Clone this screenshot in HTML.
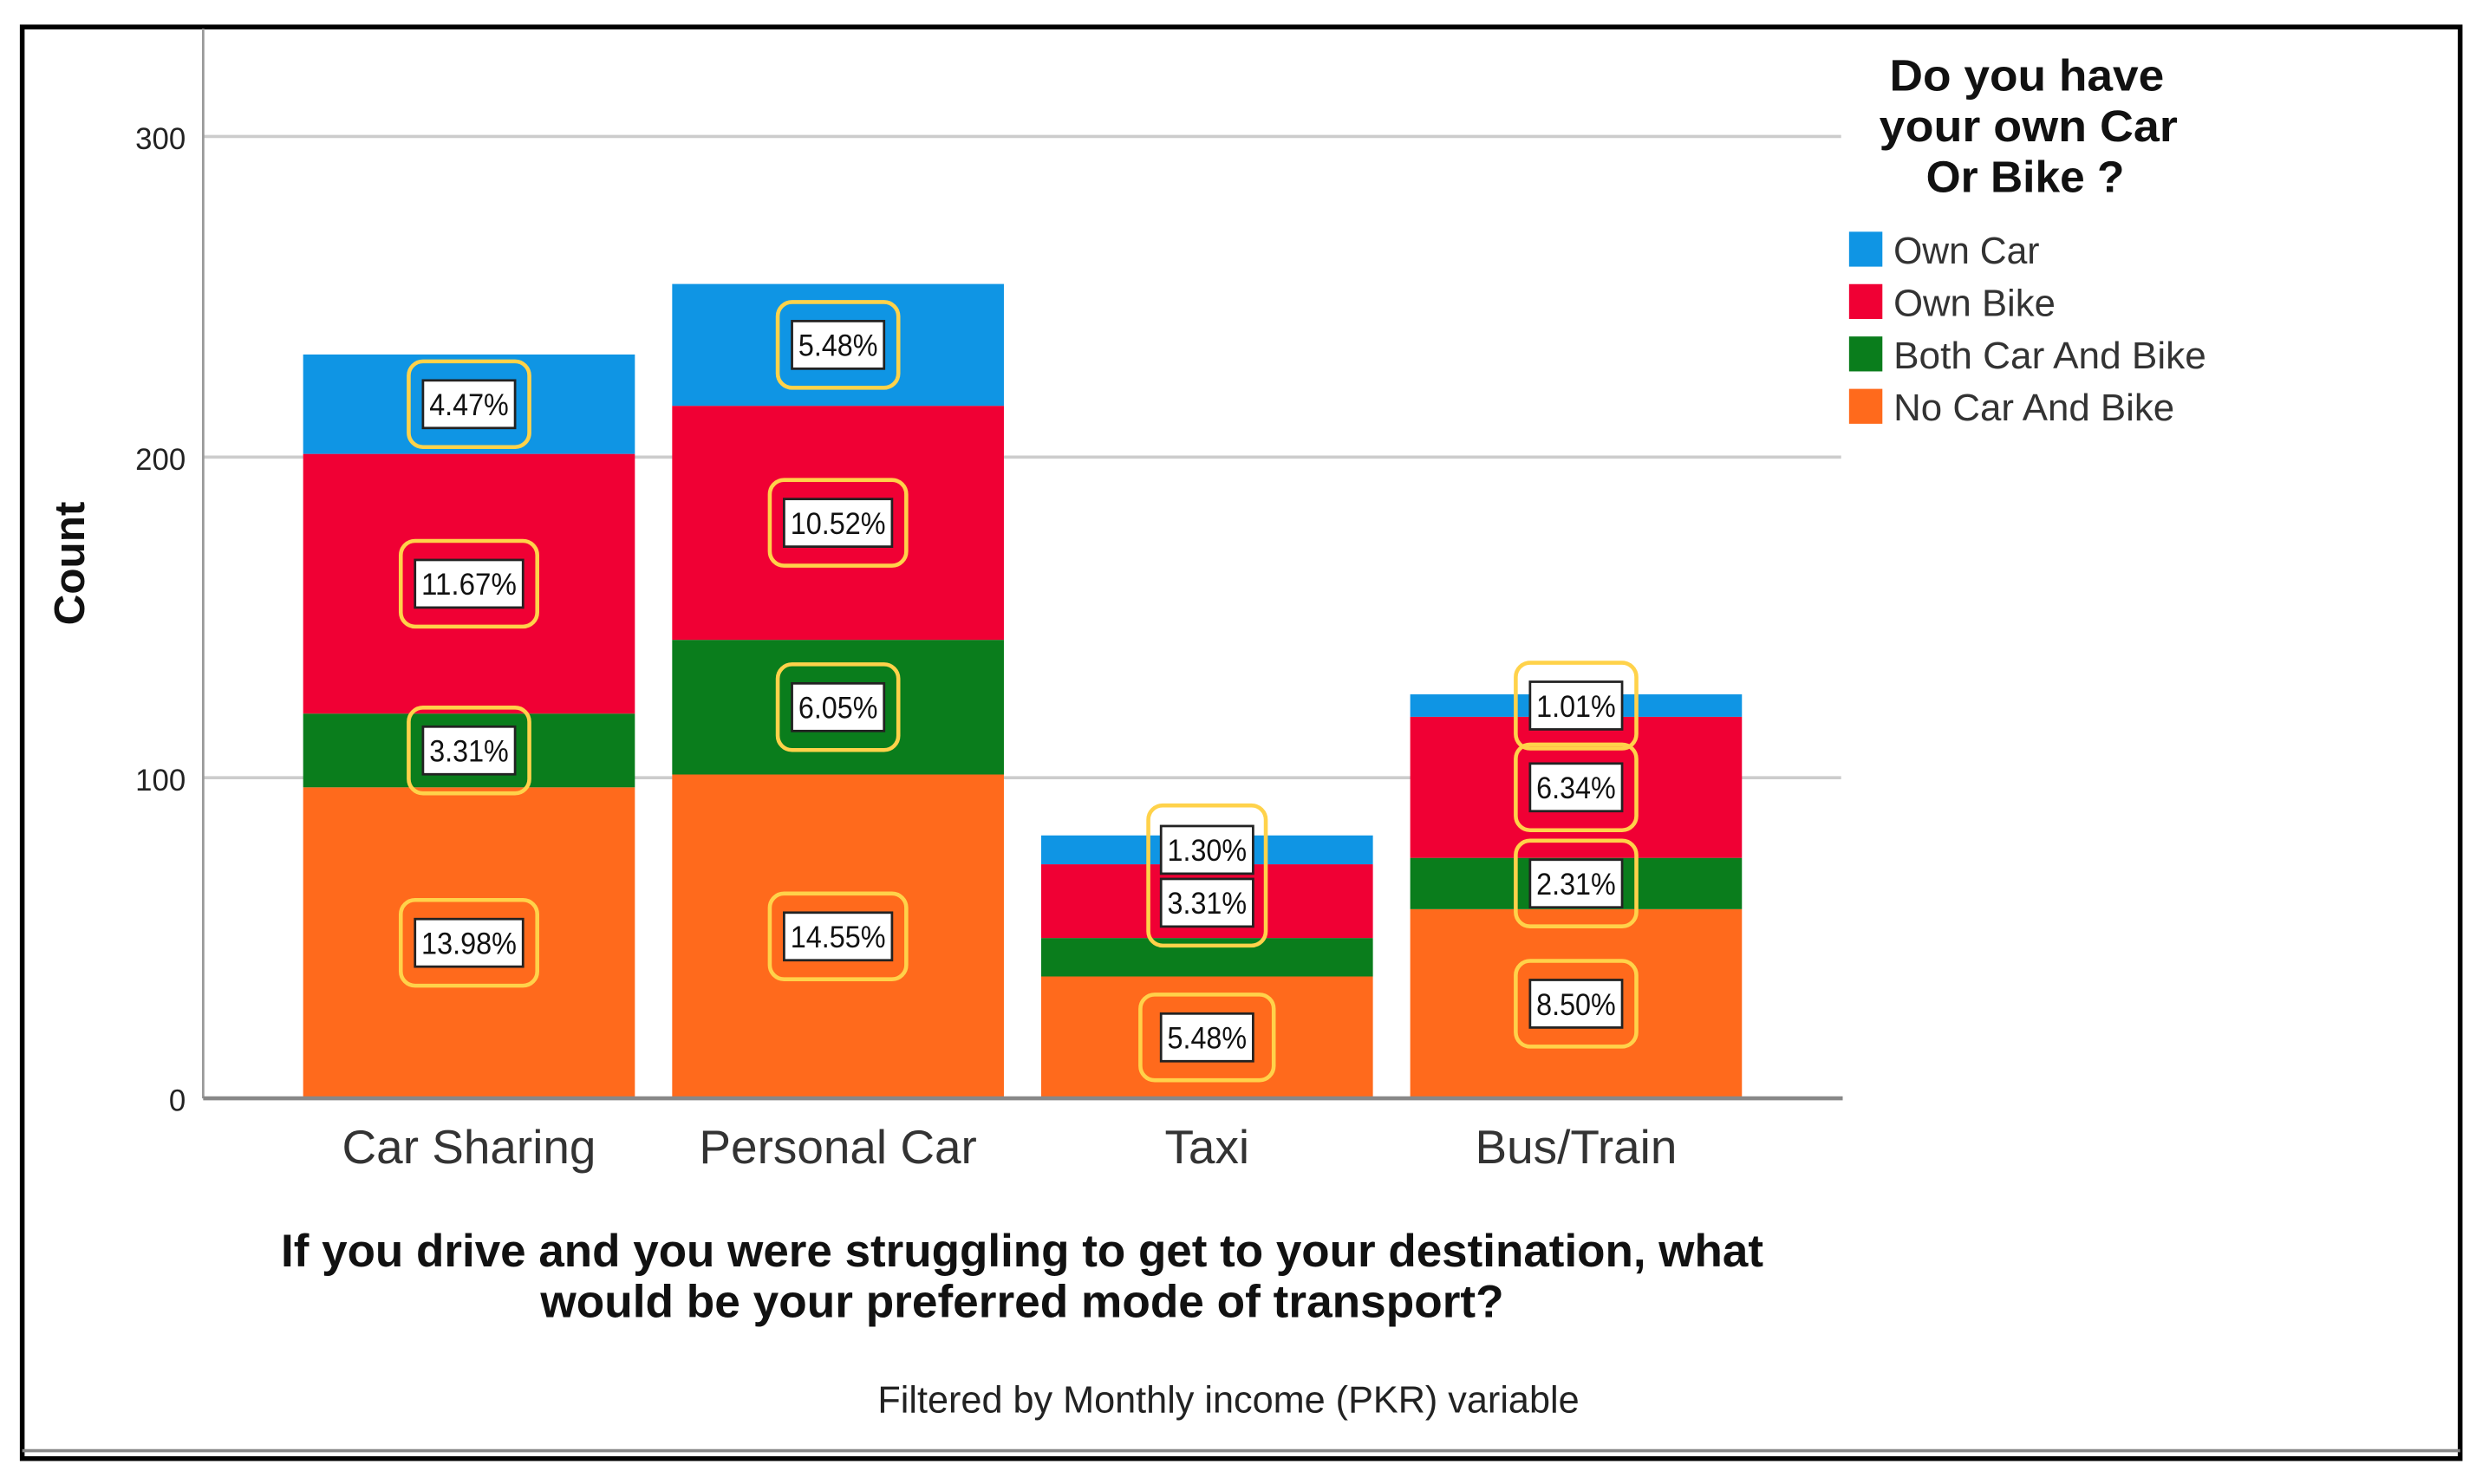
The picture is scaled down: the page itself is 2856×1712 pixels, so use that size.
<!DOCTYPE html>
<html><head><meta charset="utf-8"><style>
html,body{margin:0;padding:0;background:#fff;}
svg{display:block;font-family:"Liberation Sans",sans-serif;}
</style></head><body>
<svg id="chart" width="2856" height="1712" viewBox="0 0 1560 935" preserveAspectRatio="none" xmlns="http://www.w3.org/2000/svg">
<rect x="14" y="17" width="1536" height="902" fill="#fff" stroke="#000" stroke-width="3"/>
<line x1="14" y1="914" x2="1550" y2="914" stroke="#888" stroke-width="2"/>
<g id="grid"></g>
<g id="bars"></g>
<g id="labels"></g>
<line x1="128" y1="18" x2="128" y2="692" stroke="#999" stroke-width="1.5"/>
<line x1="128" y1="692" x2="1161" y2="692" stroke="#888" stroke-width="2.5"/>
<text transform="translate(53,355) rotate(-90)" text-anchor="middle" font-size="27" font-weight="bold" fill="#111">Count</text>
<text x="644" y="798" text-anchor="middle" font-size="29" font-weight="bold" fill="#111" textLength="934" lengthAdjust="spacingAndGlyphs">If you drive and you were struggling to get to your destination, what</text>
<text x="644" y="830" text-anchor="middle" font-size="29" font-weight="bold" fill="#111" textLength="607" lengthAdjust="spacingAndGlyphs">would be your preferred mode of transport?</text>
<text x="774" y="890" text-anchor="middle" font-size="24" fill="#222" textLength="442" lengthAdjust="spacingAndGlyphs">Filtered by Monthly income (PKR) variable</text>
<g>
<text x="1277" y="57" text-anchor="middle" font-size="28" font-weight="bold" fill="#111" textLength="173" lengthAdjust="spacingAndGlyphs">Do you have</text>
<text x="1278" y="89" text-anchor="middle" font-size="28" font-weight="bold" fill="#111" textLength="188" lengthAdjust="spacingAndGlyphs">your own Car</text>
<text x="1276" y="121" text-anchor="middle" font-size="28" font-weight="bold" fill="#111" textLength="125" lengthAdjust="spacingAndGlyphs">Or Bike ?</text>
<g id="legend-entries"></g>
</g>
</svg>
<script>
const categories = ["Car Sharing","Personal Car","Taxi","Bus/Train"];
const seriesNames = ["No Car And Bike","Both Car And Bike","Own Bike","Own Car"];
const noCarAndBike = [97,101,38,59];
const bothCarAndBike = [23,42,12,16];
const ownBike = [81,73,23,44];
const ownCar = [31,38,9,7];
const noCarPct = ["13.98%","14.55%","5.48%","8.50%"];
const bothPct = ["3.31%","6.05%","","2.31%"];
const ownBikePct = ["11.67%","10.52%","3.31%","6.34%"];
const ownCarPct = ["4.47%","5.48%","1.30%","1.01%"];
const yTicks = [0,100,200,300];

const NS="http://www.w3.org/2000/svg";
const colors=["#ff6a1c","#0a7d1c","#f00034","#0f95e4"];
const series=[noCarAndBike,bothCarAndBike,ownBike,ownCar];
const pcts=[noCarPct,bothPct,ownBikePct,ownCarPct];
const keys=["no-car-and-bike","both-car-and-bike","own-bike","own-car"];
function y(v){return 692-v*2.02;}
function xc(i){return 295.5+i*232.5;}
const bw=209;
function mk(tag,attrs,parent){const e=document.createElementNS(NS,tag);for(const k in attrs)e.setAttribute(k,attrs[k]);parent.appendChild(e);return e;}
const grid=document.getElementById('grid');
yTicks.forEach(t=>{
  if(t>0){const l=mk('line',{x1:128,x2:1160,y1:y(t),y2:y(t),stroke:'#ccc','stroke-width':2},grid);
  
  }
  const tx=mk('text',{x:117,y:y(t)+8,'text-anchor':'end','font-size':19,fill:'#222'},grid);
  tx.textContent=String(t);
  
  
});
const bars=document.getElementById('bars'),labels=document.getElementById('labels');
function labelBox(cx,cy,txt){
  const w=txt.length*10+8;
  const r=mk('rect',{x:cx-w/2,y:cy-15,width:w,height:30,fill:'#fff',stroke:'#222','stroke-width':1.5},labels);
  
  
  const t=mk('text',{x:cx,y:cy+7,'text-anchor':'middle','font-size':19,fill:'#111',textLength:w-8,lengthAdjust:'spacingAndGlyphs'},labels);
  t.textContent=txt;
  
  
  return w;
}
function ring(cx,cy,w,h){
  const r=mk('rect',{x:cx-w/2,y:cy-h/2,width:w,height:h,rx:9,fill:'none',stroke:'#ffd24a','stroke-width':2.5},labels);
  
  
}
categories.forEach((c,i)=>{
  let base=0;const centers=[];
  series.forEach((s,k)=>{
    const top=base+s[i];
    const rc=mk('rect',{x:xc(i)-bw/2,y:y(top),width:bw,height:y(base)-y(top),fill:colors[k]},bars);
    
    
    centers.push((y(base)+y(top))/2);
    base=top;
  });
  const xl=mk('text',{x:xc(i),y:733,'text-anchor':'middle','font-size':30,fill:'#333'},bars);
  xl.textContent=c;
  
  
  if(c==="Taxi"){
    const w1=labelBox(xc(i),centers[3],pcts[3][i]);
    labelBox(xc(i),centers[2]+1,pcts[2][i]);
    ring(xc(i),(centers[3]+centers[2])/2,w1+16,(centers[2]-centers[3])+56);
    labelBox(xc(i),centers[0],pcts[0][i]);
    ring(xc(i),centers[0],84,54);
  } else {
    pcts.forEach((p,k)=>{
      if(!p[i])return;
      const w=labelBox(xc(i),centers[k],p[i]);
      ring(xc(i),centers[k],w+18,54);
    });
  }
});
const leg=document.getElementById('legend-entries');
const legOrder=[3,2,1,0];
const legW=[92,102,197,177];
legOrder.forEach((k,j)=>{
  const cy=157+j*33;
  const sq=mk('rect',{x:1165,y:cy-11,width:21,height:22,fill:colors[k]},leg);
  
  
  const t=mk('text',{x:1193,y:cy+9,'font-size':24,fill:'#333',textLength:legW[j],lengthAdjust:'spacingAndGlyphs'},leg);
  t.textContent=seriesNames[k];
  
  
});
</script>
</body></html>
